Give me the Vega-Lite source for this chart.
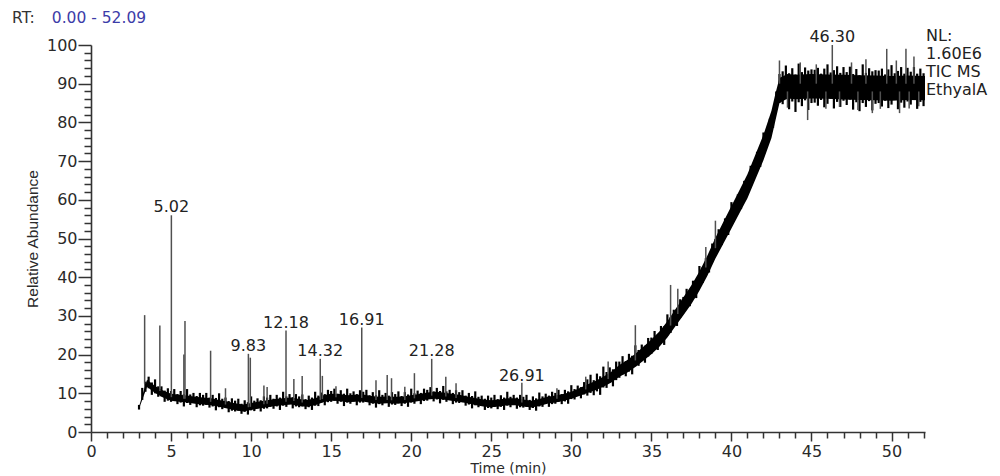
{
  "$schema": "https://vega.github.io/schema/vega-lite/v6.json",
  "width": 834,
  "height": 387,
  "autosize": {"type": "none"},
  "padding": {"left": 91, "top": 45, "right": 75, "bottom": 44},
  "background": "white",
  "config": {"view": {"stroke": null}, "font": "DejaVu Sans"},
  "datasets": {
    "band": [
      {"t": 3.0, "lo": 6.0, "hi": 6.6}, {"t": 3.5, "lo": 11.7, "hi": 13.5}, {"t": 4.0, "lo": 10.1, "hi": 11.9},
      {"t": 4.5, "lo": 8.9, "hi": 10.7}, {"t": 5.0, "lo": 8.1, "hi": 9.9}, {"t": 5.5, "lo": 7.8, "hi": 9.6},
      {"t": 6.0, "lo": 7.6, "hi": 9.4}, {"t": 6.5, "lo": 7.3, "hi": 9.1}, {"t": 7.0, "lo": 7.1, "hi": 8.9},
      {"t": 7.5, "lo": 6.9, "hi": 8.7}, {"t": 8.0, "lo": 6.5, "hi": 8.3}, {"t": 8.5, "lo": 6.1, "hi": 7.9},
      {"t": 9.0, "lo": 5.6, "hi": 7.4}, {"t": 9.5, "lo": 5.3, "hi": 7.1}, {"t": 10.0, "lo": 5.7, "hi": 7.5},
      {"t": 10.5, "lo": 6.1, "hi": 7.9}, {"t": 11.0, "lo": 6.4, "hi": 8.2}, {"t": 11.5, "lo": 6.7, "hi": 8.5},
      {"t": 12.0, "lo": 6.9, "hi": 8.7}, {"t": 12.5, "lo": 7.1, "hi": 8.9}, {"t": 13.0, "lo": 6.7, "hi": 8.5},
      {"t": 13.5, "lo": 6.5, "hi": 8.3}, {"t": 14.0, "lo": 6.9, "hi": 8.7}, {"t": 14.5, "lo": 7.7, "hi": 9.5},
      {"t": 15.0, "lo": 8.1, "hi": 9.9}, {"t": 15.5, "lo": 8.0, "hi": 9.8}, {"t": 16.0, "lo": 7.7, "hi": 9.5},
      {"t": 16.5, "lo": 7.8, "hi": 9.6}, {"t": 17.0, "lo": 7.9, "hi": 9.7}, {"t": 17.5, "lo": 7.5, "hi": 9.3},
      {"t": 18.0, "lo": 7.3, "hi": 9.1}, {"t": 18.5, "lo": 7.4, "hi": 9.2}, {"t": 19.0, "lo": 7.3, "hi": 9.1},
      {"t": 19.5, "lo": 7.4, "hi": 9.2}, {"t": 20.0, "lo": 7.7, "hi": 9.5}, {"t": 20.5, "lo": 8.0, "hi": 9.8},
      {"t": 21.0, "lo": 8.4, "hi": 10.2}, {"t": 21.5, "lo": 8.6, "hi": 10.4}, {"t": 22.0, "lo": 8.4, "hi": 10.2},
      {"t": 22.5, "lo": 8.1, "hi": 9.9}, {"t": 23.0, "lo": 7.8, "hi": 9.6}, {"t": 23.5, "lo": 7.4, "hi": 9.2},
      {"t": 24.0, "lo": 7.0, "hi": 8.8}, {"t": 24.5, "lo": 6.6, "hi": 8.4}, {"t": 25.0, "lo": 6.4, "hi": 8.2},
      {"t": 25.5, "lo": 6.6, "hi": 8.4}, {"t": 26.0, "lo": 6.9, "hi": 8.7}, {"t": 26.5, "lo": 6.9, "hi": 8.7},
      {"t": 27.0, "lo": 6.6, "hi": 8.4}, {"t": 27.5, "lo": 6.3, "hi": 8.1}, {"t": 28.0, "lo": 6.7, "hi": 8.5},
      {"t": 28.5, "lo": 7.3, "hi": 9.1}, {"t": 29.0, "lo": 7.6, "hi": 9.4}, {"t": 29.5, "lo": 8.0, "hi": 9.8},
      {"t": 30.0, "lo": 8.6, "hi": 10.4}, {"t": 30.5, "lo": 9.3, "hi": 11.3}, {"t": 31.0, "lo": 10.1, "hi": 12.3},
      {"t": 31.5, "lo": 10.8, "hi": 13.2}, {"t": 32.0, "lo": 11.7, "hi": 14.3}, {"t": 32.5, "lo": 12.8, "hi": 15.6},
      {"t": 33.0, "lo": 14.3, "hi": 17.3}, {"t": 33.5, "lo": 15.4, "hi": 18.6}, {"t": 34.0, "lo": 16.8, "hi": 20.2},
      {"t": 34.5, "lo": 18.4, "hi": 22.0}, {"t": 35.0, "lo": 20.1, "hi": 23.9}, {"t": 35.5, "lo": 22.0, "hi": 26.0},
      {"t": 36.0, "lo": 24.4, "hi": 28.6}, {"t": 36.5, "lo": 27.3, "hi": 31.7}, {"t": 37.0, "lo": 30.2, "hi": 34.8},
      {"t": 37.5, "lo": 33.1, "hi": 37.9}, {"t": 38.0, "lo": 36.5, "hi": 41.5}, {"t": 38.5, "lo": 40.4, "hi": 45.6},
      {"t": 39.0, "lo": 44.8, "hi": 50.2}, {"t": 39.5, "lo": 48.7, "hi": 54.3}, {"t": 40.0, "lo": 52.6, "hi": 58.4},
      {"t": 40.5, "lo": 56.5, "hi": 62.5}, {"t": 41.0, "lo": 60.4, "hi": 66.6}, {"t": 41.5, "lo": 65.3, "hi": 71.7},
      {"t": 42.0, "lo": 70.2, "hi": 76.8}, {"t": 42.5, "lo": 76.0, "hi": 83.0}, {"t": 42.75, "lo": 80.5, "hi": 87.5},
      {"t": 43.0, "lo": 85.0, "hi": 91.5}, {"t": 43.5, "lo": 86.2, "hi": 92.5}, {"t": 44.0, "lo": 86.0, "hi": 92.3},
      {"t": 45.0, "lo": 86.2, "hi": 92.5}, {"t": 46.0, "lo": 86.1, "hi": 92.4}, {"t": 47.0, "lo": 85.9, "hi": 92.3},
      {"t": 48.0, "lo": 85.8, "hi": 92.2}, {"t": 49.0, "lo": 85.7, "hi": 92.1}, {"t": 50.0, "lo": 85.6, "hi": 92.0},
      {"t": 51.0, "lo": 85.8, "hi": 92.1}, {"t": 52.09, "lo": 85.7, "hi": 92.0}
    ],
    "cols": [
      {"t": 3.0, "lo": 5.8, "hi": 7.0}, {"t": 3.2, "lo": 8.3, "hi": 11.4}, {"t": 3.4, "lo": 10.4, "hi": 13.0}, {"t": 3.6, "lo": 11.3, "hi": 14.3}, {"t": 3.8, "lo": 9.6, "hi": 12.8},
      {"t": 4.0, "lo": 10.0, "hi": 13.6}, {"t": 4.2, "lo": 9.1, "hi": 11.8}, {"t": 4.4, "lo": 9.2, "hi": 11.8}, {"t": 4.6, "lo": 7.8, "hi": 10.7}, {"t": 4.8, "lo": 8.1, "hi": 11.3},
      {"t": 5.0, "lo": 7.8, "hi": 10.6}, {"t": 5.2, "lo": 8.0, "hi": 11.1}, {"t": 5.4, "lo": 7.2, "hi": 9.8}, {"t": 5.6, "lo": 7.6, "hi": 10.6}, {"t": 5.8, "lo": 6.6, "hi": 9.8},
      {"t": 6.0, "lo": 7.5, "hi": 11.1}, {"t": 6.2, "lo": 7.0, "hi": 9.7}, {"t": 6.4, "lo": 7.5, "hi": 10.1}, {"t": 6.6, "lo": 6.4, "hi": 9.3}, {"t": 6.8, "lo": 6.9, "hi": 10.1},
      {"t": 7.0, "lo": 6.8, "hi": 9.6}, {"t": 7.2, "lo": 7.0, "hi": 10.1}, {"t": 7.4, "lo": 6.3, "hi": 8.9}, {"t": 7.6, "lo": 6.6, "hi": 9.6}, {"t": 7.8, "lo": 5.6, "hi": 8.8},
      {"t": 8.0, "lo": 6.4, "hi": 10.0}, {"t": 8.2, "lo": 5.9, "hi": 8.6}, {"t": 8.4, "lo": 6.3, "hi": 8.9}, {"t": 8.6, "lo": 5.1, "hi": 8.0}, {"t": 8.8, "lo": 5.5, "hi": 8.7},
      {"t": 9.0, "lo": 5.3, "hi": 8.1}, {"t": 9.2, "lo": 5.5, "hi": 8.6}, {"t": 9.4, "lo": 4.7, "hi": 7.3}, {"t": 9.6, "lo": 5.2, "hi": 8.2}, {"t": 9.8, "lo": 4.5, "hi": 7.7},
      {"t": 10.0, "lo": 5.6, "hi": 9.2}, {"t": 10.2, "lo": 5.4, "hi": 8.1}, {"t": 10.4, "lo": 6.1, "hi": 8.7}, {"t": 10.6, "lo": 5.3, "hi": 8.2}, {"t": 10.8, "lo": 6.0, "hi": 9.2},
      {"t": 11.0, "lo": 6.1, "hi": 8.9}, {"t": 11.2, "lo": 6.5, "hi": 9.6}, {"t": 11.4, "lo": 6.0, "hi": 8.6}, {"t": 11.6, "lo": 6.6, "hi": 9.6}, {"t": 11.8, "lo": 5.7, "hi": 8.9},
      {"t": 12.0, "lo": 6.8, "hi": 10.4}, {"t": 12.2, "lo": 6.5, "hi": 9.2}, {"t": 12.4, "lo": 7.2, "hi": 9.8}, {"t": 12.6, "lo": 6.1, "hi": 9.0}, {"t": 12.8, "lo": 6.6, "hi": 9.8},
      {"t": 13.0, "lo": 6.4, "hi": 9.2}, {"t": 13.2, "lo": 6.6, "hi": 9.7}, {"t": 13.4, "lo": 5.9, "hi": 8.5}, {"t": 13.6, "lo": 6.4, "hi": 9.4}, {"t": 13.8, "lo": 5.7, "hi": 8.9},
      {"t": 14.0, "lo": 6.8, "hi": 10.4}, {"t": 14.2, "lo": 6.7, "hi": 9.4}, {"t": 14.4, "lo": 7.6, "hi": 10.2}, {"t": 14.6, "lo": 6.9, "hi": 9.8}, {"t": 14.8, "lo": 7.7, "hi": 10.9},
      {"t": 15.0, "lo": 7.8, "hi": 10.6}, {"t": 15.2, "lo": 8.1, "hi": 11.2}, {"t": 15.4, "lo": 7.3, "hi": 9.9}, {"t": 15.6, "lo": 7.8, "hi": 10.8}, {"t": 15.8, "lo": 6.7, "hi": 9.9},
      {"t": 16.0, "lo": 7.6, "hi": 11.2}, {"t": 16.2, "lo": 7.3, "hi": 10.0}, {"t": 16.4, "lo": 7.9, "hi": 10.5}, {"t": 16.6, "lo": 6.9, "hi": 9.8}, {"t": 16.8, "lo": 7.6, "hi": 10.8},
      {"t": 17.0, "lo": 7.6, "hi": 10.4}, {"t": 17.2, "lo": 7.8, "hi": 10.9}, {"t": 17.4, "lo": 6.9, "hi": 9.5}, {"t": 17.6, "lo": 7.3, "hi": 10.3}, {"t": 17.8, "lo": 6.3, "hi": 9.5},
      {"t": 18.0, "lo": 7.2, "hi": 10.8}, {"t": 18.2, "lo": 6.9, "hi": 9.6}, {"t": 18.4, "lo": 7.5, "hi": 10.1}, {"t": 18.6, "lo": 6.5, "hi": 9.4}, {"t": 18.8, "lo": 7.1, "hi": 10.3},
      {"t": 19.0, "lo": 7.0, "hi": 9.8}, {"t": 19.2, "lo": 7.4, "hi": 10.5}, {"t": 19.4, "lo": 6.7, "hi": 9.3}, {"t": 19.6, "lo": 7.3, "hi": 10.3}, {"t": 19.8, "lo": 6.5, "hi": 9.7},
      {"t": 20.0, "lo": 7.6, "hi": 11.2}, {"t": 20.2, "lo": 7.3, "hi": 10.0}, {"t": 20.4, "lo": 8.1, "hi": 10.7}, {"t": 20.6, "lo": 7.2, "hi": 10.1}, {"t": 20.8, "lo": 8.0, "hi": 11.2},
      {"t": 21.0, "lo": 8.1, "hi": 10.9}, {"t": 21.2, "lo": 8.5, "hi": 11.6}, {"t": 21.4, "lo": 7.9, "hi": 10.5}, {"t": 21.6, "lo": 8.4, "hi": 11.4}, {"t": 21.8, "lo": 7.4, "hi": 10.6},
      {"t": 22.0, "lo": 8.3, "hi": 11.9}, {"t": 22.2, "lo": 7.8, "hi": 10.5}, {"t": 22.4, "lo": 8.3, "hi": 10.9}, {"t": 22.6, "lo": 7.2, "hi": 10.1}, {"t": 22.8, "lo": 7.6, "hi": 10.8},
      {"t": 23.0, "lo": 7.5, "hi": 10.3}, {"t": 23.2, "lo": 7.7, "hi": 10.8}, {"t": 23.4, "lo": 6.8, "hi": 9.4}, {"t": 23.6, "lo": 7.1, "hi": 10.1}, {"t": 23.8, "lo": 6.1, "hi": 9.3},
      {"t": 24.0, "lo": 6.9, "hi": 10.5}, {"t": 24.2, "lo": 6.4, "hi": 9.1}, {"t": 24.4, "lo": 6.8, "hi": 9.4}, {"t": 24.6, "lo": 5.7, "hi": 8.6}, {"t": 24.8, "lo": 6.2, "hi": 9.4},
      {"t": 25.0, "lo": 6.1, "hi": 8.9}, {"t": 25.2, "lo": 6.5, "hi": 9.6}, {"t": 25.4, "lo": 5.9, "hi": 8.5}, {"t": 25.6, "lo": 6.5, "hi": 9.5}, {"t": 25.8, "lo": 5.7, "hi": 8.9},
      {"t": 26.0, "lo": 6.8, "hi": 10.4}, {"t": 26.2, "lo": 6.4, "hi": 9.1}, {"t": 26.4, "lo": 7.0, "hi": 9.6}, {"t": 26.6, "lo": 6.0, "hi": 8.9}, {"t": 26.8, "lo": 6.4, "hi": 9.6},
      {"t": 27.0, "lo": 6.3, "hi": 9.1}, {"t": 27.2, "lo": 6.5, "hi": 9.6}, {"t": 27.4, "lo": 5.7, "hi": 8.3}, {"t": 27.6, "lo": 6.2, "hi": 9.2}, {"t": 27.8, "lo": 5.5, "hi": 8.7},
      {"t": 28.0, "lo": 6.6, "hi": 10.2}, {"t": 28.2, "lo": 6.5, "hi": 9.2}, {"t": 28.4, "lo": 7.3, "hi": 9.9}, {"t": 28.6, "lo": 6.5, "hi": 9.4}, {"t": 28.8, "lo": 7.2, "hi": 10.4},
      {"t": 29.0, "lo": 7.3, "hi": 10.1}, {"t": 29.2, "lo": 7.8, "hi": 10.9}, {"t": 29.4, "lo": 7.2, "hi": 9.8}, {"t": 29.6, "lo": 7.9, "hi": 10.9}, {"t": 29.8, "lo": 7.3, "hi": 10.5},
      {"t": 30.0, "lo": 8.5, "hi": 12.1}, {"t": 30.2, "lo": 8.4, "hi": 11.1}, {"t": 30.4, "lo": 9.4, "hi": 12.0}, {"t": 30.6, "lo": 8.7, "hi": 11.6}, {"t": 30.8, "lo": 9.7, "hi": 12.9},
      {"t": 31.0, "lo": 9.4, "hi": 13.6}, {"t": 31.2, "lo": 10.1, "hi": 14.8}, {"t": 31.4, "lo": 9.5, "hi": 13.4}, {"t": 31.6, "lo": 10.5, "hi": 15.1}, {"t": 31.8, "lo": 9.6, "hi": 14.4},
      {"t": 32.0, "lo": 11.5, "hi": 16.9}, {"t": 32.2, "lo": 11.4, "hi": 15.5}, {"t": 32.4, "lo": 12.8, "hi": 16.7}, {"t": 32.6, "lo": 11.8, "hi": 16.2}, {"t": 32.8, "lo": 13.4, "hi": 18.2},
      {"t": 33.0, "lo": 14.0, "hi": 18.2}, {"t": 33.2, "lo": 14.9, "hi": 19.6}, {"t": 33.4, "lo": 14.4, "hi": 18.3}, {"t": 33.6, "lo": 15.6, "hi": 20.2}, {"t": 33.8, "lo": 14.9, "hi": 19.7},
      {"t": 34.0, "lo": 17.0, "hi": 22.4}, {"t": 34.2, "lo": 17.1, "hi": 21.2}, {"t": 34.4, "lo": 18.7, "hi": 22.6}, {"t": 34.6, "lo": 17.9, "hi": 22.3}, {"t": 34.8, "lo": 19.5, "hi": 24.3},
      {"t": 35.0, "lo": 20.2, "hi": 24.4}, {"t": 35.2, "lo": 21.4, "hi": 26.1}, {"t": 35.4, "lo": 21.2, "hi": 25.1}, {"t": 35.6, "lo": 22.8, "hi": 27.4}, {"t": 35.8, "lo": 22.5, "hi": 27.3},
      {"t": 36.0, "lo": 25.0, "hi": 30.4}, {"t": 36.2, "lo": 25.6, "hi": 29.7}, {"t": 36.4, "lo": 27.7, "hi": 31.6}, {"t": 36.6, "lo": 27.4, "hi": 31.8}, {"t": 36.8, "lo": 29.5, "hi": 34.3},
      {"t": 37.0, "lo": 30.7, "hi": 34.9}, {"t": 37.2, "lo": 32.3, "hi": 37.0}, {"t": 37.4, "lo": 32.5, "hi": 36.4}, {"t": 37.6, "lo": 34.5, "hi": 39.1}, {"t": 37.8, "lo": 34.6, "hi": 39.4},
      {"t": 38.0, "lo": 37.5, "hi": 42.9}, {"t": 38.2, "lo": 38.5, "hi": 42.6}, {"t": 38.4, "lo": 41.0, "hi": 44.9}, {"t": 38.6, "lo": 41.2, "hi": 45.6}, {"t": 38.8, "lo": 43.9, "hi": 48.7},
      {"t": 39.0, "lo": 45.7, "hi": 49.9}, {"t": 39.2, "lo": 47.7, "hi": 52.4}, {"t": 39.4, "lo": 48.3, "hi": 52.2}, {"t": 39.6, "lo": 50.6, "hi": 55.2}, {"t": 39.8, "lo": 50.9, "hi": 55.7},
      {"t": 40.0, "lo": 54.0, "hi": 59.4}, {"t": 40.2, "lo": 55.0, "hi": 59.1}, {"t": 40.4, "lo": 57.5, "hi": 61.4}, {"t": 40.6, "lo": 57.6, "hi": 62.0}, {"t": 40.8, "lo": 60.1, "hi": 64.9},
      {"t": 41.0, "lo": 61.7, "hi": 65.9}, {"t": 41.2, "lo": 64.1, "hi": 68.8}, {"t": 41.4, "lo": 65.1, "hi": 69.0}, {"t": 41.6, "lo": 67.8, "hi": 72.4}, {"t": 41.8, "lo": 68.5, "hi": 73.3},
      {"t": 42.0, "lo": 72.0, "hi": 77.4}, {"t": 42.2, "lo": 73.8, "hi": 77.9}, {"t": 42.4, "lo": 77.1, "hi": 81.0}, {"t": 42.6, "lo": 78.6, "hi": 83.0}, {"t": 42.8, "lo": 83.2, "hi": 88.0},
      {"t": 43.0, "lo": 85.0, "hi": 92.5}, {"t": 43.2, "lo": 84.7, "hi": 93.2}, {"t": 43.4, "lo": 86.0, "hi": 94.7}, {"t": 43.6, "lo": 83.4, "hi": 92.7}, {"t": 43.8, "lo": 85.4, "hi": 94.0},
      {"t": 44.0, "lo": 82.7, "hi": 92.4}, {"t": 44.2, "lo": 85.2, "hi": 95.2}, {"t": 44.4, "lo": 84.2, "hi": 93.0}, {"t": 44.6, "lo": 85.7, "hi": 94.2}, {"t": 44.8, "lo": 83.2, "hi": 93.4},
      {"t": 45.0, "lo": 85.0, "hi": 93.7}, {"t": 45.2, "lo": 85.1, "hi": 93.6}, {"t": 45.4, "lo": 84.3, "hi": 94.1}, {"t": 45.6, "lo": 85.8, "hi": 92.6}, {"t": 45.8, "lo": 83.9, "hi": 93.9},
      {"t": 46.0, "lo": 84.8, "hi": 95.0}, {"t": 46.2, "lo": 86.1, "hi": 92.9}, {"t": 46.4, "lo": 83.6, "hi": 93.5}, {"t": 46.6, "lo": 85.3, "hi": 94.5}, {"t": 46.8, "lo": 84.0, "hi": 92.8},
      {"t": 47.0, "lo": 85.6, "hi": 94.3}, {"t": 47.2, "lo": 84.5, "hi": 93.0}, {"t": 47.4, "lo": 85.9, "hi": 94.4}, {"t": 47.6, "lo": 83.3, "hi": 92.5}, {"t": 47.8, "lo": 85.2, "hi": 93.8},
      {"t": 48.0, "lo": 82.9, "hi": 92.2}, {"t": 48.2, "lo": 85.0, "hi": 95.0}, {"t": 48.4, "lo": 84.0, "hi": 92.8}, {"t": 48.6, "lo": 85.5, "hi": 94.0}, {"t": 48.8, "lo": 83.1, "hi": 93.2},
      {"t": 49.0, "lo": 84.8, "hi": 93.5}, {"t": 49.2, "lo": 85.0, "hi": 93.4}, {"t": 49.4, "lo": 84.1, "hi": 93.9}, {"t": 49.6, "lo": 85.6, "hi": 92.4}, {"t": 49.8, "lo": 83.7, "hi": 93.7},
      {"t": 50.0, "lo": 84.6, "hi": 94.8}, {"t": 50.2, "lo": 85.9, "hi": 92.7}, {"t": 50.4, "lo": 83.4, "hi": 93.3}, {"t": 50.6, "lo": 85.1, "hi": 94.3}, {"t": 50.8, "lo": 83.8, "hi": 92.6},
      {"t": 51.0, "lo": 85.4, "hi": 94.1}, {"t": 51.2, "lo": 84.6, "hi": 93.1}, {"t": 51.4, "lo": 85.8, "hi": 94.3}, {"t": 51.6, "lo": 83.5, "hi": 92.6}, {"t": 51.8, "lo": 85.3, "hi": 93.9},
      {"t": 52.0, "lo": 84.2, "hi": 92.7}
    ],
    "spikes": [
      {"t": 3.35, "base": 12.5, "top": 30.2}, {"t": 4.3, "base": 10.6, "top": 27.5}, {"t": 5.02, "base": 9.0, "top": 56.0},
      {"t": 5.8, "base": 8.6, "top": 20.0}, {"t": 5.87, "base": 8.6, "top": 28.7}, {"t": 7.47, "base": 7.8, "top": 21.0},
      {"t": 8.4, "base": 7.1, "top": 11.3}, {"t": 9.83, "base": 6.4, "top": 20.2}, {"t": 9.95, "base": 6.5, "top": 19.2},
      {"t": 10.8, "base": 7.2, "top": 12.0}, {"t": 11.0, "base": 7.3, "top": 11.6}, {"t": 12.18, "base": 7.8, "top": 26.2},
      {"t": 12.67, "base": 8.0, "top": 13.7}, {"t": 13.19, "base": 7.6, "top": 14.5}, {"t": 14.32, "base": 8.3, "top": 18.9},
      {"t": 14.45, "base": 8.5, "top": 14.5}, {"t": 15.3, "base": 9.0, "top": 11.8}, {"t": 16.91, "base": 8.8, "top": 27.0},
      {"t": 17.8, "base": 8.3, "top": 13.4}, {"t": 18.5, "base": 8.3, "top": 14.7}, {"t": 18.77, "base": 8.2, "top": 13.9},
      {"t": 19.6, "base": 8.3, "top": 11.7}, {"t": 20.2, "base": 8.7, "top": 15.2}, {"t": 21.28, "base": 9.4, "top": 18.9},
      {"t": 22.16, "base": 9.2, "top": 14.3}, {"t": 22.8, "base": 8.8, "top": 12.6}, {"t": 26.91, "base": 7.6, "top": 12.7},
      {"t": 29.1, "base": 8.6, "top": 11.3}, {"t": 30.9, "base": 11.0, "top": 14.3}, {"t": 32.3, "base": 13.7, "top": 18.2},
      {"t": 34.0, "base": 18.5, "top": 27.6}, {"t": 36.2, "base": 27.5, "top": 38.0}, {"t": 36.65, "base": 30.5, "top": 37.0},
      {"t": 38.4, "base": 42.5, "top": 47.8}, {"t": 39.0, "base": 47.5, "top": 54.6},
      {"t": 43.0, "base": 90.0, "top": 96.0}, {"t": 44.3, "base": 90.0, "top": 95.5}, {"t": 45.3, "base": 90.0, "top": 95.0},
      {"t": 46.3, "base": 90.0, "top": 100.0}, {"t": 47.5, "base": 90.0, "top": 95.5}, {"t": 48.4, "base": 90.0, "top": 96.3},
      {"t": 49.7, "base": 90.0, "top": 99.0}, {"t": 50.3, "base": 90.0, "top": 96.0}, {"t": 50.9, "base": 90.0, "top": 99.0},
      {"t": 51.4, "base": 90.0, "top": 97.0},
      {"t": 43.5, "base": 88.0, "top": 83.8}, {"t": 44.76, "base": 88.0, "top": 80.6}, {"t": 45.9, "base": 88.0, "top": 83.5},
      {"t": 46.75, "base": 88.0, "top": 84.0}, {"t": 47.9, "base": 88.0, "top": 83.2}, {"t": 48.8, "base": 88.0, "top": 82.4},
      {"t": 49.3, "base": 88.0, "top": 83.5}, {"t": 50.5, "base": 88.0, "top": 82.4}, {"t": 51.1, "base": 88.0, "top": 83.6},
      {"t": 51.7, "base": 88.0, "top": 84.2}
    ],
    "peaks": [
      {"t": 5.02, "top": 56.0, "label": "5.02"}, {"t": 9.83, "top": 20.2, "label": "9.83"},
      {"t": 12.18, "top": 26.2, "label": "12.18"}, {"t": 14.32, "top": 18.9, "label": "14.32"},
      {"t": 16.91, "top": 27.0, "label": "16.91"}, {"t": 21.28, "top": 18.9, "label": "21.28"},
      {"t": 26.91, "top": 12.5, "label": "26.91"}, {"t": 46.3, "top": 100.0, "label": "46.30"}
    ]
  },
  "layer": [
    {
      "data": {"name": "band"},
      "mark": {"type": "area", "color": "black", "opacity": 1},
      "encoding": {
        "x": {
          "field": "t", "type": "quantitative",
          "scale": {"domain": [0, 52.09], "nice": false, "zero": false},
          "axis": {
            "title": "Time (min)",
            "values": [0,1,2,3,4,5,6,7,8,9,10,11,12,13,14,15,16,17,18,19,20,21,22,23,24,25,26,27,28,29,30,31,32,33,34,35,36,37,38,39,40,41,42,43,44,45,46,47,48,49,50,51,52],
            "tickCount": 500,
            "labelExpr": "datum.value % 5 === 0 ? datum.label : ''",
            "format": "d",
            "grid": false,
            "domainColor": "#333", "domainWidth": 1.6,
            "tickColor": "#333", "tickWidth": 1.5,
            "tickSize": {"condition": {"test": "datum.value % 5 === 0", "value": 9}, "value": 6},
            "labelFont": "DejaVu Sans", "labelFontSize": 16, "labelColor": "#2a2a2a",
            "labelPadding": 2, "labelFlush": false, "labelOverlap": false,
            "titleFont": "DejaVu Sans", "titleFontSize": 14, "titleFontWeight": "normal", "titleColor": "#2a2a2a",
            "titlePadding": 2
          }
        },
        "y": {
          "field": "lo", "type": "quantitative",
          "scale": {"domain": [0, 100], "nice": false, "zero": false},
          "axis": {
            "title": "Relative Abundance",
            "values": [0,2,4,6,8,10,12,14,16,18,20,22,24,26,28,30,32,34,36,38,40,42,44,46,48,50,52,54,56,58,60,62,64,66,68,70,72,74,76,78,80,82,84,86,88,90,92,94,96,98,100],
            "tickCount": 500,
            "labelExpr": "datum.value % 10 === 0 ? datum.label : ''",
            "format": "d",
            "grid": false,
            "domainColor": "#333", "domainWidth": 1.6,
            "tickColor": "#333", "tickWidth": 1.5,
            "tickSize": {"condition": {"test": "datum.value % 10 === 0", "value": 13}, "value": 7},
            "labelFont": "DejaVu Sans", "labelFontSize": 16, "labelColor": "#2a2a2a",
            "labelPadding": 1, "labelFlush": false, "labelOverlap": false,
            "titleFont": "Liberation Sans", "titleFontSize": 15.5, "titleFontWeight": "normal", "titleColor": "#2a2a2a",
            "titlePadding": 6
          }
        },
        "y2": {"field": "hi"}
      }
    },
    {
      "data": {"name": "cols"},
      "mark": {"type": "rule", "color": "black", "strokeWidth": 2.2},
      "encoding": {
        "x": {"field": "t", "type": "quantitative"},
        "y": {"field": "lo", "type": "quantitative"},
        "y2": {"field": "hi"}
      }
    },
    {
      "data": {"name": "spikes"},
      "mark": {"type": "rule", "color": "#505050", "strokeWidth": 1.5},
      "encoding": {
        "x": {"field": "t", "type": "quantitative"},
        "y": {"field": "base", "type": "quantitative"},
        "y2": {"field": "top"}
      }
    },
    {
      "data": {"name": "peaks"},
      "mark": {"type": "text", "font": "DejaVu Sans", "fontSize": 16, "color": "#222", "baseline": "alphabetic", "align": "center", "dy": -3, "clip": false},
      "encoding": {
        "x": {"field": "t", "type": "quantitative"},
        "y": {"field": "top", "type": "quantitative"},
        "text": {"field": "label"}
      }
    },
    {
      "data": {"values": [{"txt": "RT:"}]},
      "mark": {"type": "text", "font": "DejaVu Sans", "fontSize": 15.5, "color": "#333", "baseline": "middle", "align": "left"},
      "encoding": {
        "x": {"datum": -4.93},
        "y": {"datum": 107.1},
        "text": {"field": "txt"}
      }
    },
    {
      "data": {"values": [{"txt": "0.00 - 52.09"}]},
      "mark": {"type": "text", "font": "DejaVu Sans", "fontSize": 15.5, "color": "#3c3ca8", "baseline": "middle", "align": "left"},
      "encoding": {
        "x": {"datum": -2.45},
        "y": {"datum": 107.1},
        "text": {"field": "txt"}
      }
    },
    {
      "data": {"values": [{"txt": "NL:"}]},
      "mark": {"type": "text", "font": "DejaVu Sans", "fontSize": 16, "color": "#222", "baseline": "alphabetic", "align": "left", "lineHeight": 18, "dx": 1},
      "encoding": {
        "x": {"datum": 52.09},
        "y": {"datum": 101.0},
        "text": {"value": ["NL:", "1.60E6", "TIC  MS", "EthyalA"]}
      }
    }
  ]
}
